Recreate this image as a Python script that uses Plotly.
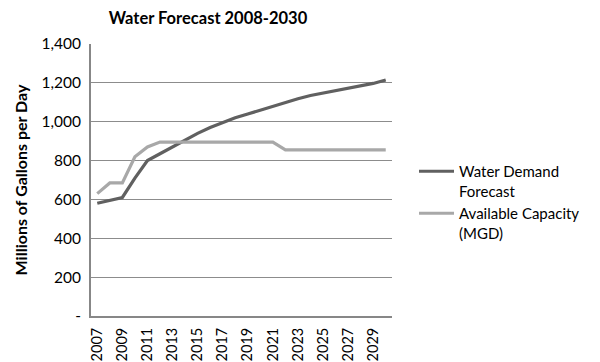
import plotly.graph_objects as go

# Yearly series
years = [str(y) for y in range(2007, 2031)]
demand = [580, 595, 610, 710, 800, 835, 870, 905, 940, 970, 995, 1020,
          1040, 1060, 1080, 1100, 1118, 1135, 1148, 1160, 1170, 1185, 1197, 1215]
capacity = [630, 685, 685, 820, 870, 895, 895, 895, 895, 895, 895, 895,
            895, 895, 895, 855, 855, 855, 855, 855, 855, 855, 855, 855]

series_names = ["Water Demand<br>Forecast", "Available Capacity<br>(MGD)"]
y_ticks = [0, 200, 400, 600, 800, 1000, 1200, 1400]
y_tick_text = ["-", "200", "400", "600", "800", "1,000", "1,200", "1,400"]
x_ticks = years[::2]

FONT = "Lato, Calibri, sans-serif"

W, H = 600, 362
ML, MR, MT, MB = 91, 208, 44, 46
PW, PH = W - ML - MR, H - MT - MB

fig = go.Figure()
fig.add_trace(go.Scatter(x=years, y=demand, mode="lines", name=series_names[0],
                         line=dict(color="#606060", width=3.2)))
fig.add_trace(go.Scatter(x=years, y=capacity, mode="lines", name=series_names[1],
                         line=dict(color="#a8a8a8", width=3.2)))

fig.update_layout(
    width=W, height=H,
    margin=dict(l=ML, r=MR, t=MT, b=MB),
    paper_bgcolor="white", plot_bgcolor="white",
    font=dict(family=FONT, size=15.5, color="black"),
    title=dict(text="<b>Water Forecast 2008-2030</b>", x=208 / W, xanchor="center",
               y=1 - 18 / H, yanchor="middle", font=dict(size=16.5, family=FONT)),
    showlegend=True,
    legend=dict(x=(414 - ML) / PW, y=1 - (202 - MT) / PH, xanchor="left", yanchor="middle",
                font=dict(size=15, family=FONT), tracegroupgap=33, valign="top",
                itemwidth=35, bgcolor="rgba(0,0,0,0)", borderwidth=0),
)
fig.update_xaxes(type="category", range=[-0.5, 23.5],
                 tickvals=x_ticks, ticktext=x_ticks, automargin=False,
                 tickangle=-90, showgrid=False, showline=True, linecolor="#878787",
                 linewidth=2, ticks="", tickfont=dict(size=14.5), ticklabelstandoff=4)
fig.update_yaxes(range=[0, 1400], tickvals=y_ticks, ticktext=y_tick_text, automargin=False,
                 showgrid=True, gridcolor="#8c8c8c", gridwidth=1,
                 showline=True, linecolor="#878787", linewidth=2, ticks="",
                 zeroline=False, tickfont=dict(size=15.5), ticklabelstandoff=5,
                 title=dict(text="<b>Millions of Gallons per Day</b>", font=dict(size=16), standoff=10))

fig.write_html("out.html")
